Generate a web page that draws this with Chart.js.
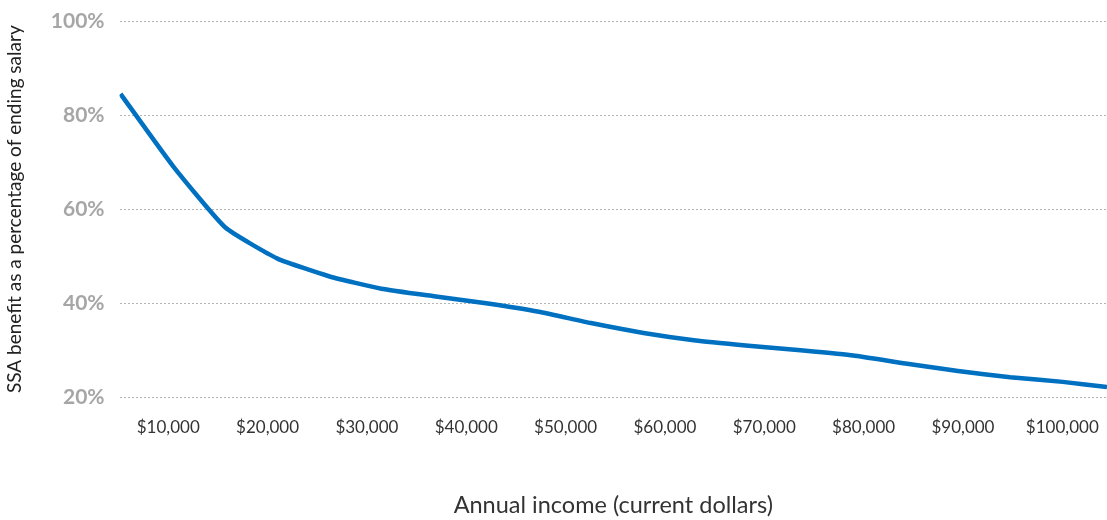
<!DOCTYPE html>
<html>
<head>
<meta charset="utf-8">
<script src="https://cdn.jsdelivr.net/npm/chart.js@4/dist/chart.umd.min.js"></script>
<style>
    html, body { margin: 0; padding: 0; background: #fff; }
    #wrap { width: 1107px; height: 520px; }
</style>
</head>
<body>
<div id="wrap"><canvas id="chart"></canvas></div>
<script>
// annual income (current dollars) and SSA benefit as % of ending salary
const incomes = [5200, 10500, 15750, 21000, 26250, 31450, 36750, 42000, 47300, 52550,
                 57850, 63100, 68400, 73650, 78950, 84200, 89500, 94750, 100050, 104500];
const benefitPct = [84.5, 69.1, 56.1, 49.5, 45.7, 43.1, 41.5, 40.0, 38.2, 35.8,
                    33.7, 32.1, 31.0, 30.0, 28.9, 27.2, 25.6, 24.3, 23.3, 22.2];
const xTicks = [10000, 20000, 30000, 40000, 50000, 60000, 70000, 80000, 90000, 100000];
const yTicks = [20, 40, 60, 80, 100];

const font = "'Lato', 'Noto Sans', sans-serif";

let points = [];
for (let i = 0; i < incomes.length; i++)
    points.push({ x: incomes[i], y: benefitPct[i] });

new Chart(document.getElementById('chart'), {
    type: 'line',
    data: {
        datasets: [{
            data: points,
            borderColor: '#0070c0',
            borderWidth: 4.5,
            pointRadius: 0,
            tension: 0.15,
            fill: false
        }]
    },
    options: {
        responsive: true,
        maintainAspectRatio: false,
        animation: false,
        layout: { padding: { top: 21, right: 0, left: 3, bottom: 0 } },
        plugins: {
            legend: { display: false },
            tooltip: { enabled: false }
        },
        scales: {
            x: {
                type: 'linear',
                min: 5100,
                max: 104500,
                afterBuildTicks: scale => {
                    scale.ticks = xTicks.map(v => ({ value: v }));
                },
                afterFit: scale => {
                    scale.paddingRight = 0;
                },
                grid: { display: false, drawTicks: false },
                border: { display: false },
                ticks: {
                    color: '#333',
                    padding: 20,
                    maxRotation: 0,
                    autoSkip: false,
                    font: { family: font, size: 17 },
                    callback: v => '$' + v.toLocaleString('en-US')
                },
                title: {
                    display: true,
                    text: 'Annual income (current dollars)',
                    color: '#333',
                    font: { family: font, size: 23.5 },
                    padding: { top: 34, bottom: 0 }
                }
            },
            y: {
                min: 20,
                max: 100,
                afterBuildTicks: scale => {
                    scale.ticks = yTicks.map(v => ({ value: v }));
                },
                afterFit: scale => {
                    scale.paddingTop = 0;
                    scale.paddingBottom = 0;
                },
                grid: {
                    color: '#b4b4b4',
                    lineWidth: 1,
                    drawTicks: false
                },
                border: { display: false, dash: [2, 2] },
                ticks: {
                    color: '#a6a6a6',
                    padding: 15,
                    font: { family: font, size: 21, weight: 'bold' },
                    callback: v => v + '%'
                },
                title: {
                    display: true,
                    text: 'SSA benefit as a percentage of ending salary',
                    color: '#222',
                    font: { family: font, size: 19 },
                    padding: { top: 0, bottom: 10 }
                }
            }
        }
    }
});
</script>
</body>
</html>
